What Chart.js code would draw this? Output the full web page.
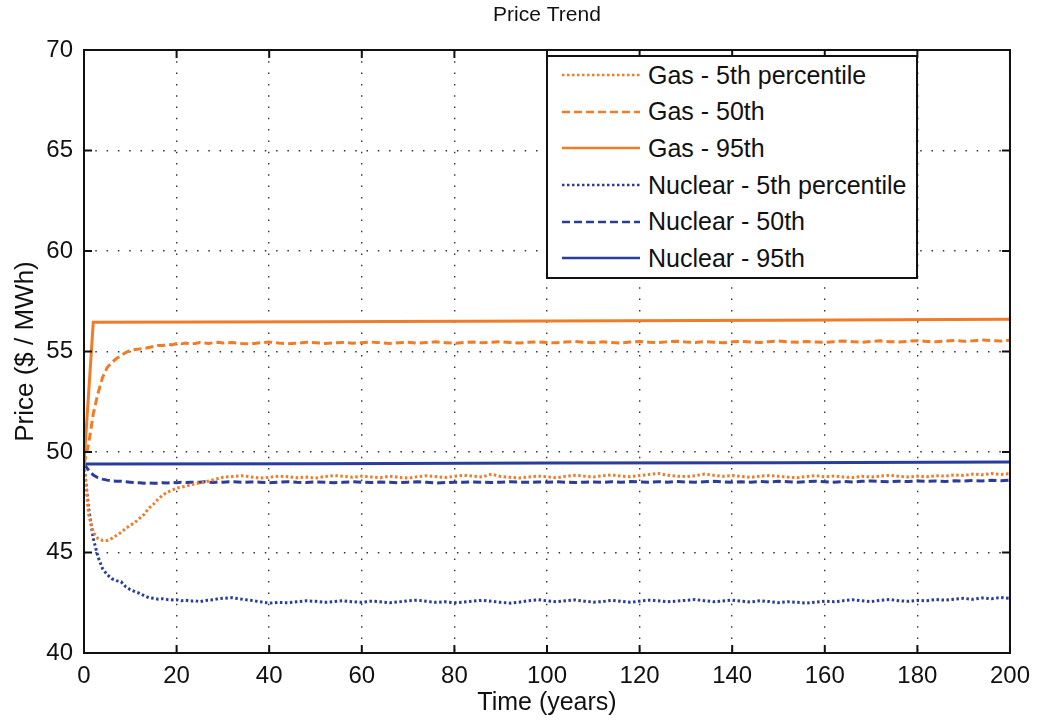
<!DOCTYPE html>
<html>
<head>
<meta charset="utf-8">
<title>Price Trend</title>
<script src="https://cdn.jsdelivr.net/npm/chart.js@4.4.1/dist/chart.umd.min.js"></script>
<style>
  body { margin: 0; background: #fff; }
  #wrap { position: relative; width: 1039px; height: 723px; }
  #legend {
    position: absolute; left: 546px; top: 55px; width: 368px;
    border: 2px solid #111; background: #fff;
    font-family: "Liberation Sans", Arial, Helvetica, sans-serif; font-size: 25px; color: #111;
  }
  #legend .row { display: flex; align-items: center; height: 36.6px; padding-left: 14px; }
  #legend svg { margin-right: 8px; flex: none; }
</style>
</head>
<body>
<div id="wrap">
  <canvas id="chart" width="1039" height="723"></canvas>
  <div id="legend"></div>
</div>
<script>
// simulation years: yearly for the first 30, every other year after that
const years = [
  0, 1, 2, 3, 4, 5, 6, 7, 8, 9, 10, 11, 12, 13, 14, 15, 16, 17, 18, 19, 20,
  21, 22, 23, 24, 25, 26, 27, 28, 29, 30,
  32, 34, 36, 38, 40, 42, 44, 46, 48, 50, 52, 54, 56, 58, 60,
  62, 64, 66, 68, 70, 72, 74, 76, 78, 80, 82, 84, 86, 88, 90, 92, 94, 96, 98, 100,
  102, 104, 106, 108, 110, 112, 114, 116, 118, 120, 122, 124, 126, 128, 130, 132, 134, 136, 138, 140,
  142, 144, 146, 148, 150, 152, 154, 156, 158, 160, 162, 164, 166, 168, 170, 172, 174, 176, 178, 180,
  182, 184, 186, 188, 190, 192, 194, 196, 198, 200
];

const gas5 = [
  49.4, 46.9, 46.0, 45.7, 45.6, 45.6, 45.7, 45.85, 46.0, 46.2,
  46.35, 46.5, 46.7, 46.9, 47.2, 47.4, 47.65, 47.85, 48.0, 48.1,
  48.2, 48.25, 48.3, 48.36, 48.42, 48.46, 48.5, 48.56, 48.62, 48.68, 48.74,
  48.78, 48.82, 48.76, 48.7, 48.74, 48.8, 48.77, 48.72, 48.75, 48.7, 48.78, 48.83, 48.79, 48.74, 48.8,
  48.76, 48.72, 48.8, 48.74, 48.7, 48.77, 48.82, 48.78, 48.73, 48.79,
  48.84, 48.8, 48.75, 48.9, 48.78, 48.74, 48.71, 48.76, 48.8, 48.77,
  48.72, 48.79, 48.84, 48.8, 48.76, 48.82, 48.86, 48.8, 48.77, 48.83,
  48.88, 48.94, 48.85, 48.8, 48.78, 48.82, 48.9, 48.84, 48.79, 48.83,
  48.78, 48.74, 48.8, 48.83, 48.79, 48.75, 48.72, 48.78, 48.82, 48.77,
  48.8, 48.76, 48.73, 48.79, 48.76, 48.8, 48.84, 48.79, 48.76, 48.8,
  48.77, 48.82, 48.8, 48.86, 48.83, 48.9, 48.87, 48.93, 48.88, 48.92
];

const gas50 = [
  49.4, 50.4, 51.9, 52.9, 53.7, 54.2, 54.45, 54.65, 54.8, 54.95,
  55.05, 55.1, 55.12, 55.15, 55.2, 55.25, 55.3, 55.3, 55.35, 55.33,
  55.4, 55.38, 55.42, 55.37, 55.4, 55.45, 55.42, 55.4, 55.44, 55.46, 55.42,
  55.45, 55.4, 55.38, 55.43, 55.47, 55.42, 55.39, 55.41, 55.46, 55.44, 55.4, 55.43, 55.45, 55.41, 55.44,
  55.47, 55.43, 55.4, 55.44, 55.46, 55.42, 55.45, 55.48, 55.44, 55.41,
  55.45, 55.47, 55.43, 55.46, 55.49, 55.45, 55.42, 55.46, 55.48, 55.45,
  55.43, 55.47, 55.5, 55.46, 55.44, 55.48, 55.45, 55.42, 55.47, 55.5,
  55.46, 55.44, 55.48, 55.51, 55.47, 55.45, 55.49, 55.46, 55.43, 55.48,
  55.5, 55.47, 55.45, 55.49, 55.52, 55.48, 55.46, 55.5, 55.47, 55.45,
  55.49, 55.52, 55.49, 55.46, 55.5, 55.53, 55.49, 55.47, 55.51, 55.54,
  55.5, 55.48, 55.52, 55.55, 55.51, 55.53, 55.57, 55.54, 55.52, 55.56
];

const nuc5 = [
  49.4, 47.2, 45.7, 44.8, 44.2, 43.9, 43.7, 43.6, 43.55, 43.3,
  43.15, 43.05, 42.97, 42.85, 42.75, 42.72, 42.68, 42.7, 42.66, 42.64,
  42.65, 42.6, 42.62, 42.58, 42.6, 42.55, 42.6, 42.63, 42.65, 42.7, 42.72,
  42.75, 42.68, 42.62, 42.55, 42.48, 42.52, 42.5, 42.55, 42.6, 42.57, 42.52, 42.56, 42.6, 42.55, 42.52,
  42.58, 42.55, 42.5, 42.54, 42.6, 42.63, 42.57, 42.52, 42.55, 42.5,
  42.53, 42.58, 42.62, 42.57, 42.52, 42.48, 42.53, 42.6, 42.65, 42.6,
  42.55, 42.6, 42.64, 42.58, 42.53, 42.56, 42.62, 42.57, 42.52, 42.58,
  42.63, 42.6, 42.55, 42.58, 42.62, 42.66, 42.6, 42.55, 42.59, 42.63,
  42.58, 42.54, 42.6, 42.56, 42.5, 42.55, 42.52, 42.48, 42.53, 42.58,
  42.55, 42.6, 42.65, 42.6, 42.56, 42.62, 42.66, 42.6, 42.57, 42.62,
  42.6, 42.66, 42.63, 42.68, 42.72, 42.67, 42.74, 42.7, 42.76, 42.72
];

const nuc50 = [
  49.4, 49.1, 48.85, 48.72, 48.65, 48.6, 48.57, 48.55, 48.55, 48.52,
  48.5, 48.48, 48.47, 48.45, 48.46, 48.44, 48.45, 48.47, 48.46, 48.48,
  48.47, 48.49, 48.48, 48.5, 48.49, 48.5, 48.52, 48.5, 48.48, 48.51, 48.5,
  48.52, 48.49, 48.51, 48.5, 48.47, 48.5, 48.52, 48.49, 48.48, 48.51, 48.5, 48.47, 48.49, 48.52, 48.5,
  48.48, 48.51, 48.49, 48.47, 48.5, 48.52, 48.49, 48.46, 48.48, 48.5,
  48.49, 48.51, 48.5, 48.48, 48.5, 48.52, 48.5, 48.49, 48.51, 48.5,
  48.52, 48.5, 48.48, 48.5, 48.51, 48.49, 48.52, 48.5, 48.53, 48.51,
  48.49, 48.52, 48.5, 48.53, 48.51, 48.5, 48.52, 48.54, 48.51, 48.5,
  48.52, 48.5, 48.53, 48.51, 48.54, 48.52, 48.5, 48.53, 48.55, 48.52,
  48.5, 48.53, 48.51, 48.54, 48.56, 48.53, 48.52, 48.55, 48.53, 48.56,
  48.54, 48.56, 48.53, 48.57, 48.55, 48.58, 48.56, 48.59, 48.57, 48.6
];

// the 95th percentile paths are almost flat, so fewer points are enough
const gas95Years = [0, 2, 50, 100, 150, 200];
const gas95 = [49.4, 56.45, 56.48, 56.52, 56.56, 56.6];
const nuc95Years = [0, 50, 100, 150, 200];
const nuc95 = [49.4, 49.42, 49.45, 49.47, 49.5];

const ORANGE = '#f07c28';
const BLUE = '#2a3d9a';
const DOTTED = [2.5, 2.5];
const DASHED = [8, 4];
const FONT = '"Liberation Sans", Arial, Helvetica, sans-serif';

const toPoints = (xs, ys) => xs.map((x, i) => ({x, y: ys[i]}));

function lineSet(label, xs, ys, color, dash) {
  return {
    label,
    data: toPoints(xs, ys),
    borderColor: color,
    backgroundColor: color,
    borderWidth: 3,
    borderDash: dash,
    pointRadius: 0,
    tension: 0,
    fill: false
  };
}

// box with inward tick marks on all four sides
const frameTicks = {
  id: 'frameTicks',
  afterDatasetsDraw(chart) {
    const {ctx, chartArea: a, scales: {x, y}} = chart;
    const len = 8;
    ctx.save();
    ctx.strokeStyle = '#111';
    ctx.lineWidth = 2;
    ctx.strokeRect(a.left, a.top, a.right - a.left, a.bottom - a.top);
    ctx.beginPath();
    x.ticks.forEach(t => {
      const px = x.getPixelForValue(t.value);
      ctx.moveTo(px, a.bottom); ctx.lineTo(px, a.bottom - len);
      ctx.moveTo(px, a.top); ctx.lineTo(px, a.top + len);
    });
    y.ticks.forEach(t => {
      const py = y.getPixelForValue(t.value);
      ctx.moveTo(a.left, py); ctx.lineTo(a.left + len, py);
      ctx.moveTo(a.right, py); ctx.lineTo(a.right - len, py);
    });
    ctx.stroke();
    ctx.restore();
  }
};

const gridOpts = { color: '#333', lineWidth: 1.4, drawTicks: false };
const dotBorder = { display: false, dash: [1.5, 9.8] };

const chart = new Chart(document.getElementById('chart'), {
  type: 'line',
  data: {
    datasets: [
      lineSet('Gas - 5th percentile', years, gas5, ORANGE, DOTTED),
      lineSet('Gas - 50th', years, gas50, ORANGE, DASHED),
      lineSet('Gas - 95th', gas95Years, gas95, ORANGE, []),
      lineSet('Nuclear - 5th percentile', years, nuc5, BLUE, DOTTED),
      lineSet('Nuclear - 50th', years, nuc50, BLUE, DASHED),
      lineSet('Nuclear - 95th', nuc95Years, nuc95, BLUE, [])
    ]
  },
  options: {
    responsive: false,
    animation: false,
    layout: { padding: { left: 0, right: 27, top: 0, bottom: 0 } },
    scales: {
      x: {
        type: 'linear', min: 0, max: 200,
        ticks: { stepSize: 20, color: '#111', padding: 9, font: { family: FONT, size: 24 } },
        grid: gridOpts,
        border: dotBorder,
        title: { display: true, text: 'Time (years)', color: '#111',
                 font: { family: FONT, size: 25 }, padding: { top: 0, bottom: 4.5 } },
        afterFit: s => { s.height = 70; }
      },
      y: {
        min: 40, max: 70,
        ticks: { stepSize: 5, color: '#111', padding: 11, font: { family: FONT, size: 24 } },
        grid: gridOpts,
        border: dotBorder,
        title: { display: true, text: 'Price ($ / MWh)', color: '#111',
                 font: { family: FONT, size: 26 }, padding: { top: 10, bottom: 0 } },
        afterFit: s => { s.width = 84; }
      }
    },
    plugins: {
      legend: { display: false },
      tooltip: { enabled: false },
      title: {
        display: true, text: 'Price Trend', color: '#111',
        fullSize: false,
        font: { family: FONT, size: 21, weight: 'normal' },
        padding: { top: 3, bottom: 21.8 }
      }
    }
  },
  plugins: [frameTicks]
});

// legend box inside the axes, upper right
const legendEl = document.getElementById('legend');
chart.data.datasets.forEach(ds => {
  const row = document.createElement('div');
  row.className = 'row';
  const dash = ds.borderDash.length ? ds.borderDash.join(',') : 'none';
  row.innerHTML =
    `<svg width="78" height="12"><line x1="0" y1="6" x2="78" y2="6" stroke="${ds.borderColor}" ` +
    `stroke-width="2.6" stroke-dasharray="${dash}"/></svg><span>${ds.label}</span>`;
  legendEl.appendChild(row);
});
</script>
</body>
</html>
